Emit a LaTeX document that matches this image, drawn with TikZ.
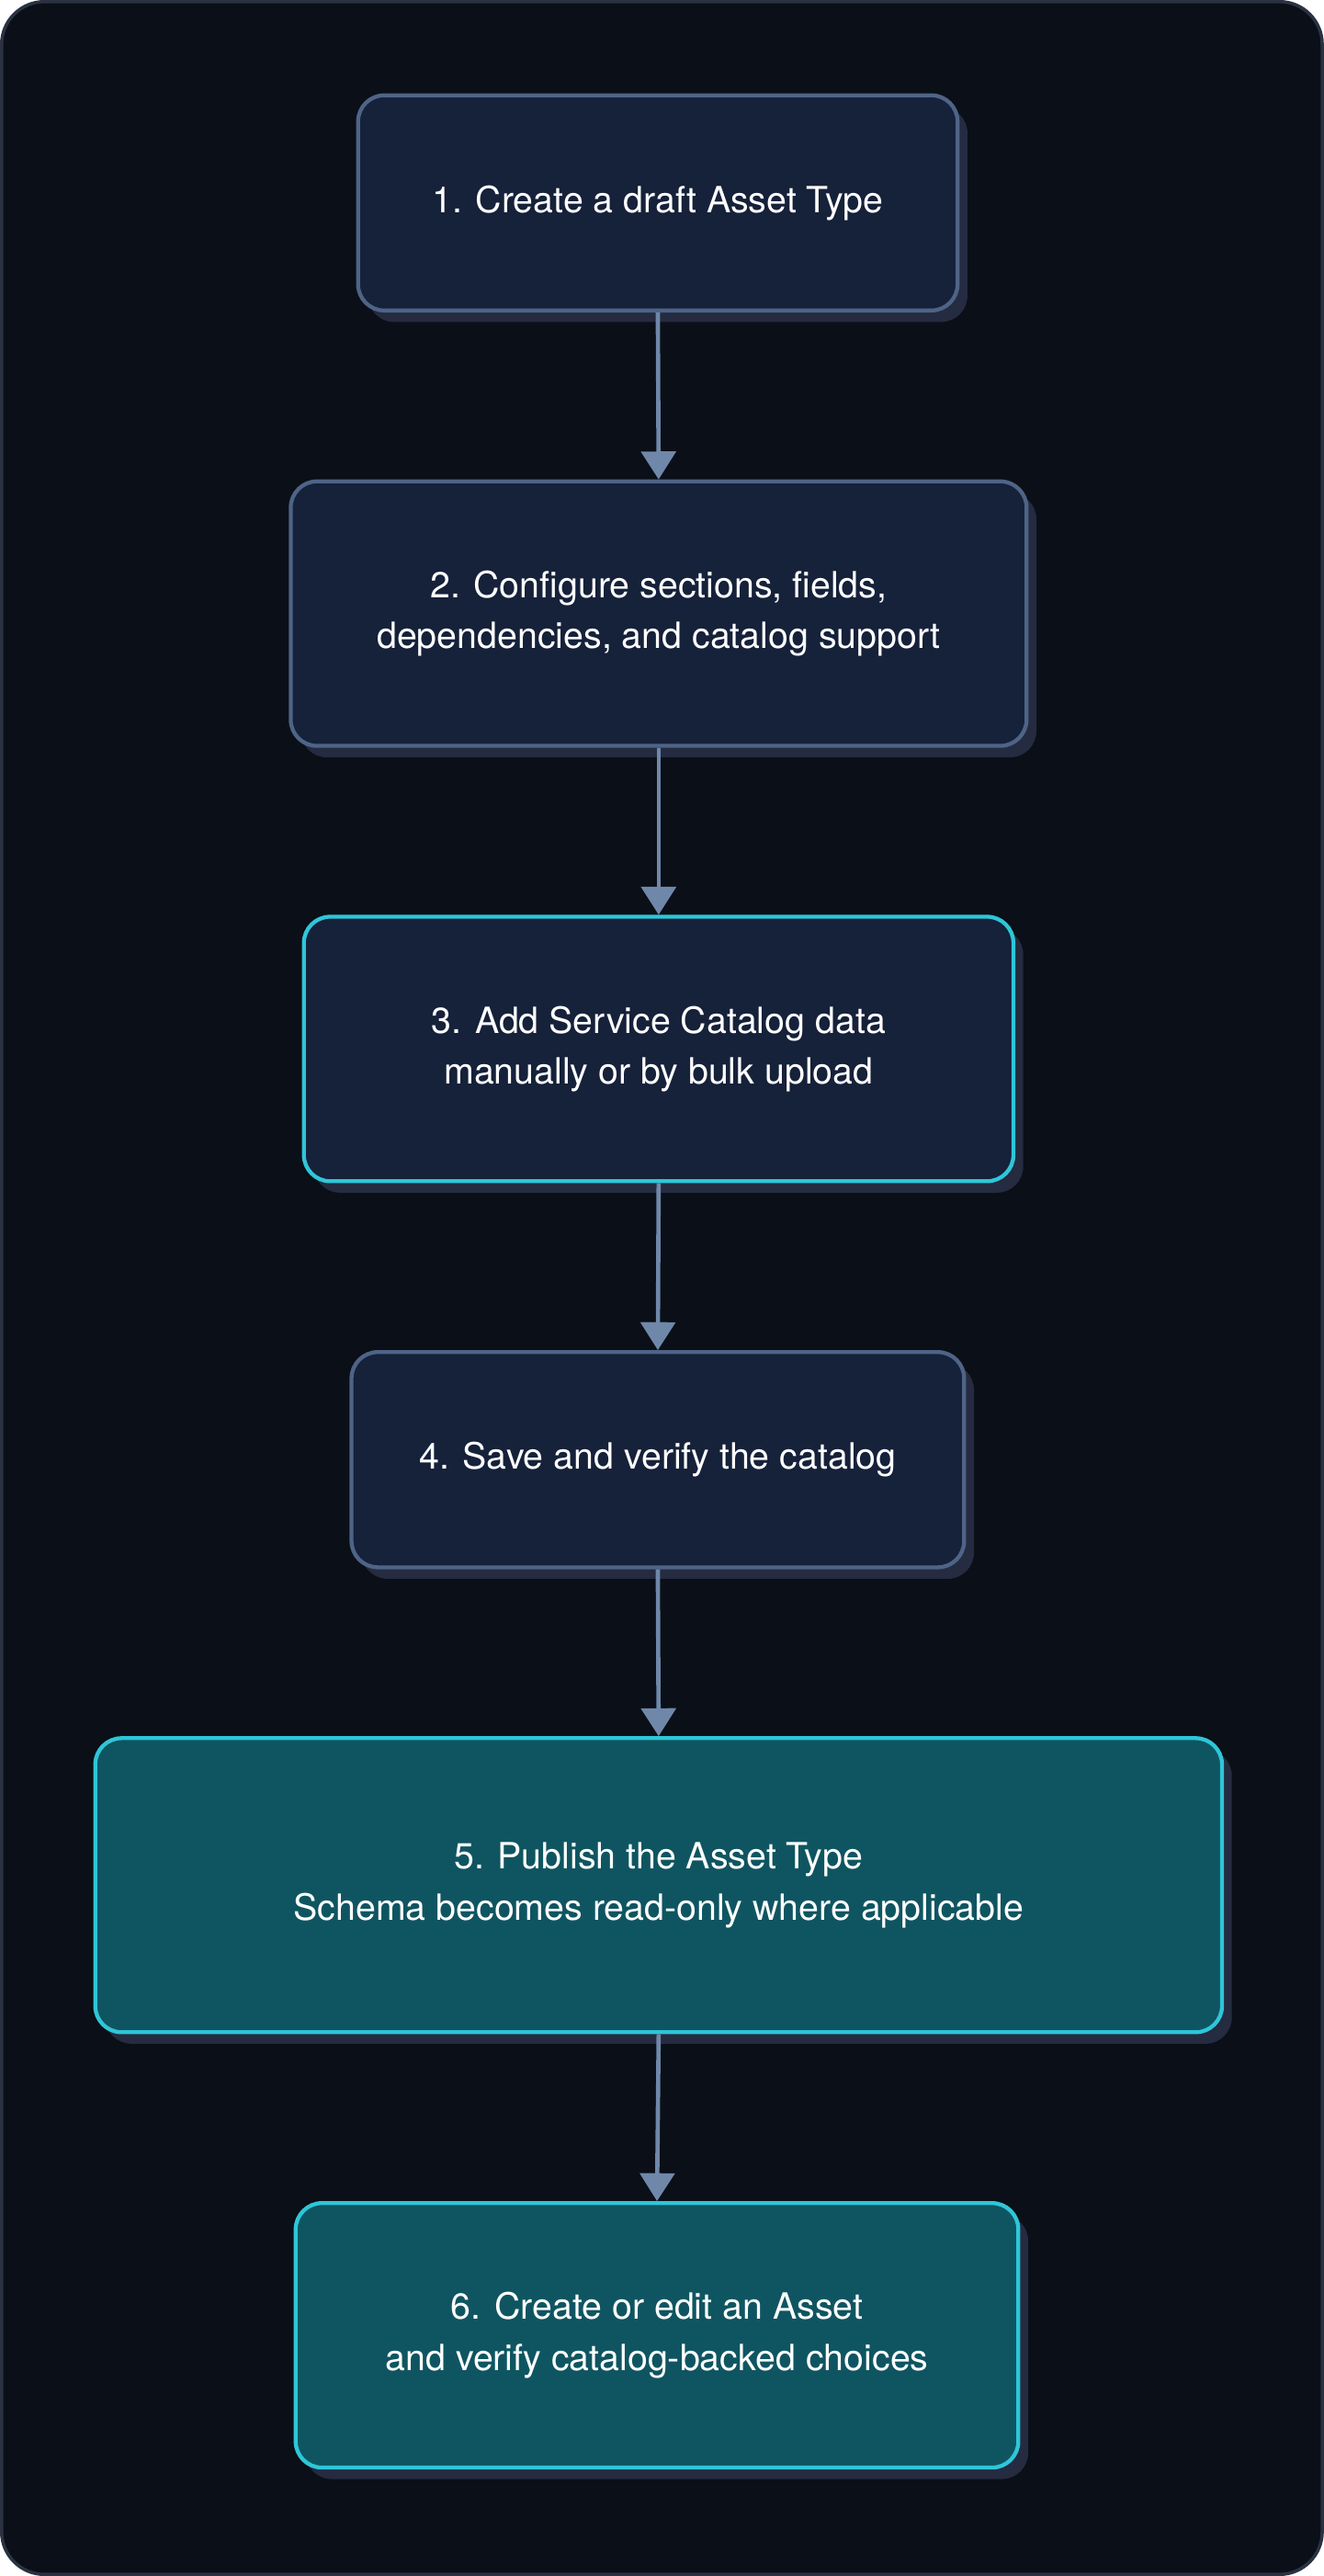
\documentclass[tikz,border=0pt]{standalone}
\usepackage{fontspec}
\setmainfont{TeX Gyre Heros}
\usetikzlibrary{arrows.meta,shadows}
\definecolor{bg}{HTML}{0B0F17}
\definecolor{bgline}{HTML}{2A3242}
\definecolor{navy}{HTML}{16213A}
\definecolor{navyline}{HTML}{4E6487}
\definecolor{teal}{HTML}{0F5561}
\definecolor{cyan}{HTML}{2EC6D8}
\definecolor{shade}{HTML}{252B40}
\definecolor{arr}{HTML}{6F88AA}
\begin{document}
\begin{tikzpicture}[x=1pt,y=-1pt,
  box/.style={draw=navyline,fill=navy,line width=2.4pt,rounded corners=16pt,
    text=white,align=center,font=\fontsize{22}{31}\selectfont,
    drop shadow={shadow xshift=6pt,shadow yshift=-7pt,fill=shade,opacity=1}},
  hl/.style={draw=cyan},
  pub/.style={draw=cyan,fill=teal},
  link/.style={draw=arr,line width=2.6pt,-{Triangle[length=17pt,width=21pt]}}]
\useasboundingbox (0,0) rectangle (806,1568);
\draw[fill=bg,draw=bgline,line width=2pt,rounded corners=26pt] (1,1) rectangle (805,1567);
\node[box,minimum width=365pt,minimum height=131pt] (n1) at (400.5,123.5) {1. Create a draft Asset Type};
\node[box,minimum width=448pt,minimum height=161pt] (n2) at (401,373.5) {2. Configure sections, fields,\\dependencies, and catalog support};
\node[box,hl,minimum width=432pt,minimum height=161pt] (n3) at (401,638.5) {3. Add Service Catalog data\\manually or by bulk upload};
\node[box,minimum width=373pt,minimum height=131pt] (n4) at (400.5,888.5) {4. Save and verify the catalog};
\node[box,pub,minimum width=686pt,minimum height=179pt] (n5) at (401,1147.5) {5. Publish the Asset Type\\Schema becomes read-only where applicable};
\node[box,pub,minimum width=440pt,minimum height=161pt] (n6) at (400,1421.5) {6. Create or edit an Asset\\and verify catalog-backed choices};
\draw[link] (n1.south) -- (n2.north);
\draw[link] (n2.south) -- (n3.north);
\draw[link] (n3.south) -- (n4.north);
\draw[link] (n4.south) -- (n5.north);
\draw[link] (n5.south) -- (n6.north);
\end{tikzpicture}
\end{document}
